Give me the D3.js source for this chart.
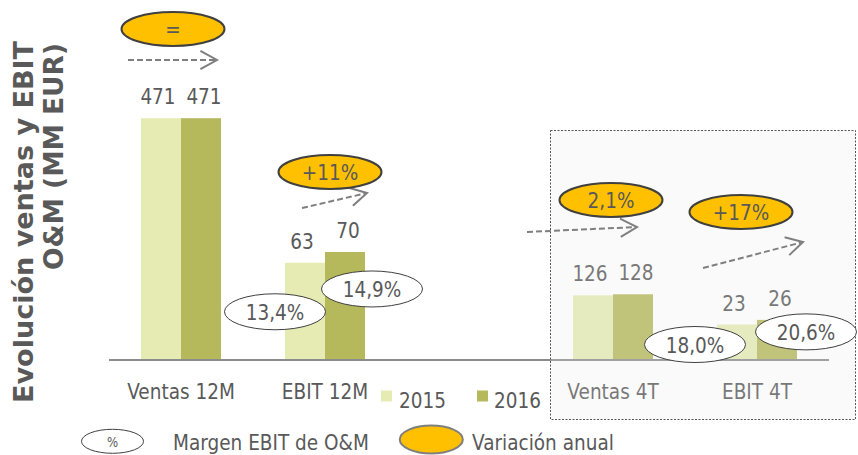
<!DOCTYPE html>
<html>
<head>
<meta charset="utf-8">
<script src="https://cdn.jsdelivr.net/npm/d3@7"></script>
<style>
  html, body { margin: 0; padding: 0; background: #fff; }
  svg { display: block; font-family: "DejaVu Sans", Verdana, sans-serif; }
  text { fill: #595959; }
</style>
</head>
<body>
<div id="chart"></div>
<script>

// -----------------------------------------------------------------------------
// Data
// -----------------------------------------------------------------------------

var categories = ["Ventas 12M", "EBIT 12M", "Ventas 4T", "EBIT 4T"];
var kinds = ["ventas", "ebit", "ventas", "ebit"];
var years = ["2015", "2016"];
var values2015 = [471, 63, 126, 23];
var values2016 = [471, 70, 128, 26];
var variations = ["=", "+11%", "2,1%", "+17%"];
var margins = ["13,4%", "14,9%", "18,0%", "20,6%"];
var marginCats = ["EBIT 12M", "EBIT 12M", "EBIT 4T", "EBIT 4T"];
var marginYears = ["2015", "2016", "2015", "2016"];

// -----------------------------------------------------------------------------
// Layout
// -----------------------------------------------------------------------------

var width = 858, height = 455;
var SX = 0.84; // text in the source is narrow / tall
var colors = {"2015": "#e6ebb4", "2016": "#b5b95b"};

// annotation placement (ellipse centre relative to category, arrow relative to ellipse)
var varLayout = [
  {dx: -8,  cy: 29,  x1: -45, y1: 31, x2: 44, y2: 31},
  {dx: 5,   cy: 172, x1: -28, y1: 36, x2: 37, y2: 21},
  {dx: -2,  cy: 200, x1: -84, y1: 32, x2: 26, y2: 27},
  {dx: -16, cy: 212, x1: -38, y1: 56, x2: 62, y2: 30}
];
var marginLayout = [[-30, 49], [27, 37], [-42, 20], [29, 12]];
var valueShift = 3; // labels sit a little apart from the bar centres

var slots = [categories[0], categories[1], "_gap", categories[2], categories[3]];

var x0 = d3.scaleBand()
    .domain(slots)
    .range([109, 829]);

var x1 = d3.scaleBand()
    .domain(years)
    .range([0, x0.bandwidth()])
    .paddingOuter(0.8);

var baseY = 360, topY = 110;
var yScales = {
  ventas: d3.scaleLinear().domain([0, 487]).range([baseY, topY]),
  ebit: d3.scaleLinear().domain([0, 162]).range([baseY, topY])
};

var rows = [];
categories.forEach(function(c, i) {
  rows.push({cat: c, kind: kinds[i], year: "2015", v: values2015[i]});
  rows.push({cat: c, kind: kinds[i], year: "2016", v: values2016[i]});
});

function barX(cat, year) { return x0(cat) + x1(year); }
function barCx(cat, year) { return barX(cat, year) + x1.bandwidth() / 2; }
function rowFor(cat, year) {
  return rows.filter(function(r) { return r.cat == cat && r.year == year; })[0];
}

var svg = d3.select("#chart").append("svg")
    .attr("width", width)
    .attr("height", height);

function label(g, x, y, txt, size, anchor) {
  return g.append("text")
      .attr("transform", "translate(" + x + "," + y + ") scale(" + SX + ",1)")
      .attr("text-anchor", anchor || "middle")
      .attr("font-size", size || 22)
      .text(txt);
}

// bars
svg.selectAll(".bar")
    .data(rows)
  .enter().append("rect")
    .attr("class", "bar")
    .attr("x", function(d) { return barX(d.cat, d.year); })
    .attr("width", x1.bandwidth())
    .attr("y", function(d) { return yScales[d.kind](d.v); })
    .attr("height", function(d) { return baseY - yScales[d.kind](d.v); })
    .attr("fill", function(d) { return colors[d.year]; });

// baseline
svg.append("line")
    .attr("x1", x0.range()[0]).attr("x2", x0.range()[1])
    .attr("y1", baseY).attr("y2", baseY)
    .attr("stroke", "#8c8c8c")
    .attr("stroke-width", 2);

// value labels
rows.forEach(function(d) {
  var shift = d.year == "2015" ? -valueShift : valueShift;
  label(svg, barCx(d.cat, d.year) + shift, yScales[d.kind](d.v) - 14, d.v);
});

// category labels
categories.forEach(function(c) {
  label(svg, x0(c) + x0.bandwidth() / 2, 398.5, c);
});

// dotted box around the 4T quarter
svg.append("rect")
    .attr("x", 550.5).attr("y", 130.5)
    .attr("width", 305).attr("height", 289)
    .attr("fill", "#e8e8e8")
    .attr("fill-opacity", 0.22)
    .attr("stroke", "#555")
    .attr("stroke-width", 1)
    .attr("stroke-dasharray", "2,1.5");

// variation arrows + ellipses
variations.forEach(function(t, i) {
  var L = varLayout[i];
  var cx = x0(categories[i]) + x0.bandwidth() / 2 + L.dx, cy = L.cy;
  var ax1 = cx + L.x1, ay1 = cy + L.y1, ax2 = cx + L.x2, ay2 = cy + L.y2;
  var ang = Math.atan2(ay2 - ay1, ax2 - ax1);
  svg.append("line")
      .attr("x1", ax1).attr("y1", ay1).attr("x2", ax2 - 2 * Math.cos(ang)).attr("y2", ay2 - 2 * Math.sin(ang))
      .attr("stroke", "#7f7f7f")
      .attr("stroke-width", 2)
      .attr("stroke-dasharray", "6,3");
  var len = 19, spread = Math.PI / 6.2;
  svg.append("path")
      .attr("d", "M" + (ax2 - len * Math.cos(ang - spread)) + "," + (ay2 - len * Math.sin(ang - spread)) +
                 "L" + ax2 + "," + ay2 +
                 "L" + (ax2 - len * Math.cos(ang + spread)) + "," + (ay2 - len * Math.sin(ang + spread)))
      .attr("fill", "none")
      .attr("stroke", "#7f7f7f")
      .attr("stroke-width", 2);
  svg.append("ellipse")
      .attr("cx", cx).attr("cy", cy)
      .attr("rx", 51.5).attr("ry", 17)
      .attr("fill", "#ffc000")
      .attr("stroke", "#404040")
      .attr("stroke-width", 2);
  label(svg, cx, cy + 7.5, t);
});

// EBIT margin ellipses
margins.forEach(function(t, i) {
  var r = rowFor(marginCats[i], marginYears[i]);
  var cx = barCx(r.cat, r.year) + marginLayout[i][0];
  var cy = yScales[r.kind](r.v) + marginLayout[i][1];
  svg.append("ellipse")
      .attr("cx", cx).attr("cy", cy)
      .attr("rx", 50.5).attr("ry", 18)
      .attr("fill", "#fff")
      .attr("stroke", "#404040")
      .attr("stroke-width", 1);
  label(svg, cx, cy + 8, t);
});

// year legend
var legYears = [{x: 381, tx: 399}, {x: 477, tx: 494}];
years.forEach(function(y, i) {
  svg.append("rect")
      .attr("x", legYears[i].x).attr("y", 390.5)
      .attr("width", 11).attr("height", 11)
      .attr("fill", colors[y]);
  label(svg, legYears[i].tx, 408, y, 22, "start");
});

// bottom legend
svg.append("ellipse")
    .attr("cx", 112.5).attr("cy", 441.3)
    .attr("rx", 31).attr("ry", 12)
    .attr("fill", "#fff")
    .attr("stroke", "#404040")
    .attr("stroke-width", 1);
label(svg, 112.5, 446.5, "%", 14);
label(svg, 173, 450, "Margen EBIT de O&M", 22, "start");
svg.append("ellipse")
    .attr("cx", 431.3).attr("cy", 439.5)
    .attr("rx", 31.5).attr("ry", 14)
    .attr("fill", "#ffc000")
    .attr("stroke", "#7f7f7f")
    .attr("stroke-width", 2);
label(svg, 472, 450, "Variación anual", 22, "start");

// y title
svg.append("text")
    .attr("transform", "translate(33,41) rotate(-90)")
    .attr("text-anchor", "end")
    .attr("font-size", 27)
    .attr("font-weight", "bold")
    .attr("textLength", 362)
    .attr("lengthAdjust", "spacingAndGlyphs")
    .text("Evolución ventas y EBIT");
svg.append("text")
    .attr("transform", "translate(63,43) rotate(-90)")
    .attr("text-anchor", "end")
    .attr("font-size", 27)
    .attr("font-weight", "bold")
    .attr("textLength", 227)
    .attr("lengthAdjust", "spacingAndGlyphs")
    .text("O&M (MM EUR)");

</script>
</body>
</html>
